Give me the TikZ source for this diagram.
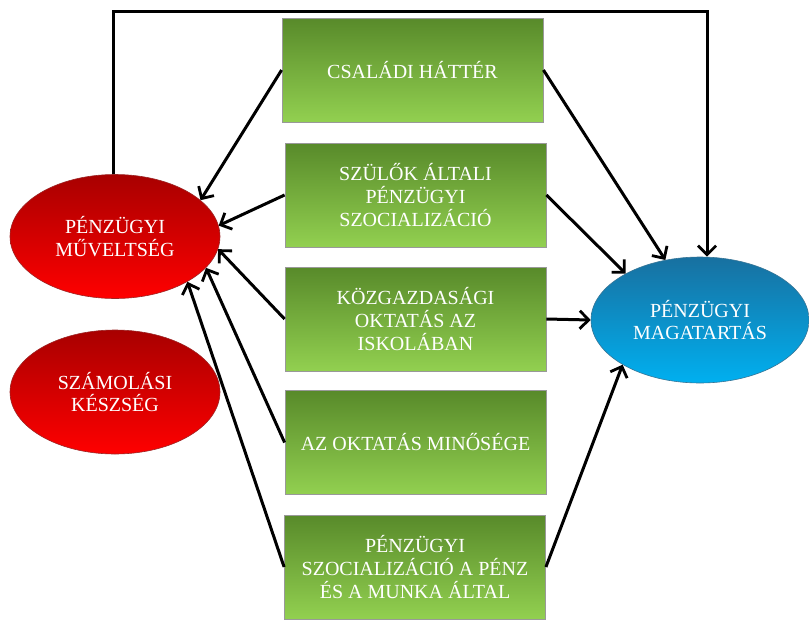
\documentclass[tikz,border=0pt]{standalone}
\usepackage{fontspec}
\setmainfont{Liberation Serif}
\usetikzlibrary{arrows.meta,shapes.geometric}
\definecolor{gtop}{RGB}{88,138,42}
\definecolor{gbot}{RGB}{146,208,80}
\definecolor{rtop}{RGB}{168,0,0}
\definecolor{rbot}{RGB}{255,0,0}
\definecolor{btop}{RGB}{24,112,160}
\definecolor{bbot}{RGB}{0,176,240}
\begin{document}
\begin{tikzpicture}[x=1pt,y=-1pt,
  txt/.style={text=white,font=\fontsize{20}{22.7}\selectfont,align=center},
  gbox/.style={txt,rectangle,draw=gray!80,line width=0.8pt,top color=gtop,bottom color=gbot,
    minimum width=261pt,minimum height=104pt,inner sep=0pt},
  rell/.style={txt,ellipse,draw=rtop!70!gray,line width=0.6pt,top color=rtop,bottom color=rbot,
    minimum width=210pt,minimum height=124pt,inner sep=0pt},
  bell/.style={txt,ellipse,draw=btop!70!gray,line width=0.6pt,top color=btop,bottom color=bbot,
    minimum width=218pt,minimum height=126pt,inner sep=0pt},
  arr/.style={line width=3pt,-{Straight Barb[length=9pt,width=18pt,line width=2.8pt]}}]
\useasboundingbox (0,0) rectangle (809,619);
\node[gbox] (b1) at (412.5,70) {CSALÁDI HÁTTÉR};
\node[gbox] (b2) at (415.5,195) {SZÜLŐK ÁLTALI\\PÉNZÜGYI\\SZOCIALIZÁCIÓ};
\node[gbox] (b3) at (415.5,319) {KÖZGAZDASÁGI\\OKTATÁS AZ\\ISKOLÁBAN};
\node[gbox] (b4) at (415.5,442.5) {AZ OKTATÁS MINŐSÉGE};
\node[gbox] (b5) at (415,567) {PÉNZÜGYI\\SZOCIALIZÁCIÓ A PÉNZ\\ÉS A MUNKA ÁLTAL};
\node[rell] (pm) at (115,236.5) {PÉNZÜGYI\\MŰVELTSÉG};
\node[rell] (sk) at (115,392) {SZÁMOLÁSI\\KÉSZSÉG};
\node[bell] (bm) at (700,320) {PÉNZÜGYI\\MAGATARTÁS};
\coordinate (tl) at (113,11);
\coordinate (tr) at (707,11);
\draw[arr] (pm.north -| tl) -- (tl) -- (tr) -- (tr |- bm.north);
\draw[arr] (b1.west) -- (pm.23);
\draw[arr] (b2.west) -- (pm.6);
\draw[arr] (b3.west) -- (pm.-7);
\draw[arr] (b4.west) -- (pm.-19);
\draw[arr] (b5.west) -- (pm.-32);
\draw[arr] (b1.east) -- (bm.120);
\draw[arr] (b2.east) -- (bm.148);
\draw[arr] (b3.east) -- (bm.180);
\draw[arr] (b5.east) -- (bm.210);
\end{tikzpicture}
\end{document}
